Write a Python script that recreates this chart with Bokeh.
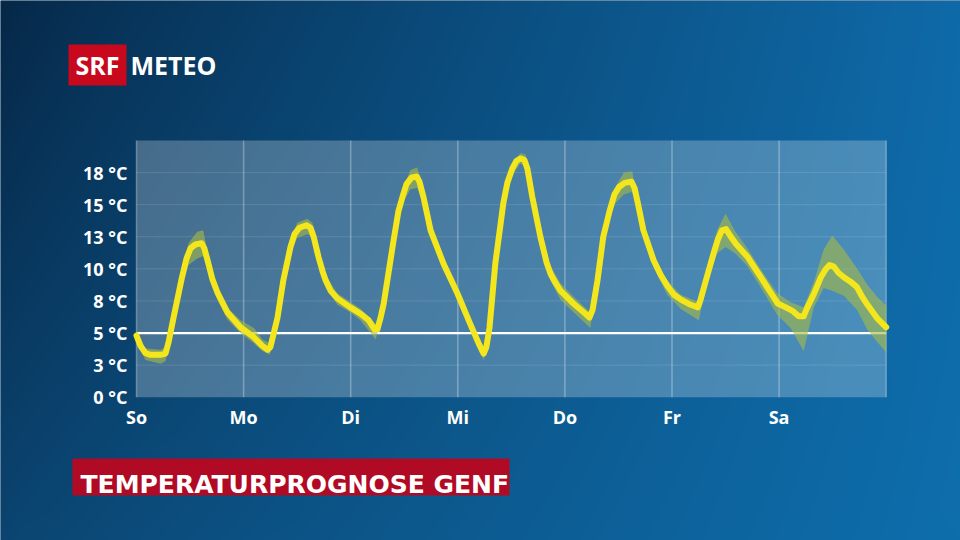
import numpy as np
from bokeh.plotting import figure
from bokeh.models import Range1d
from bokeh.core.properties import value
from bokeh.embed import file_html
from bokeh.resources import INLINE

# ---- forecast for Geneva (hours since Sunday 00:00) ----
hours = [0.0, 0.9, 2.0, 3.1, 5.4, 6.5, 7.2, 8.3, 10.2, 11.2,
         12.1, 13.2, 14.6, 15.2, 15.9, 17.0, 18.2, 20.4, 23.3, 26.2,
         28.2, 29.4, 30.0, 30.7, 31.6, 32.9, 34.5, 35.4, 36.5, 38.1,
         39.0, 39.7, 40.8, 41.7, 42.4, 43.5, 45.0, 47.9, 50.2, 52.0,
         53.3, 54.0, 54.7, 55.4, 57.6, 58.7, 59.6, 60.5, 61.6, 62.8,
         63.4, 64.3, 65.9, 68.8, 71.9, 74.8, 76.8, 77.8, 78.4, 79.1,
         80.4, 82.2, 83.1, 84.2, 85.1, 86.0, 86.9, 87.6, 88.7, 90.5,
         91.9, 92.8, 93.9, 95.0, 97.9, 100.6, 101.5, 102.2, 103.3, 104.6,
         106.0, 107.1, 108.2, 109.4, 110.9, 111.6, 112.3, 113.6, 115.9, 117.5,
         119.1, 120.4, 122.0, 124.2, 125.8, 126.4, 128.0, 129.4, 130.3, 131.2,
         132.1, 133.0, 134.3, 137.0, 139.9, 142.2, 143.7, 145.5, 147.1, 148.4,
         149.5, 150.2, 151.8, 153.3, 154.4, 155.3, 156.2, 157.3, 158.5, 160.0,
         161.4, 162.5, 163.8, 166.1, 168.0]
temp = [4.8, 4.0, 3.45, 3.3, 3.3, 3.4, 4.3, 6.2, 9.35, 10.8,
        11.6, 11.9, 12.0, 11.6, 10.7, 9.2, 8.1, 6.6, 5.45, 4.7,
        4.0, 3.7, 3.9, 4.9, 6.2, 9.1, 11.7, 12.7, 13.2, 13.4,
        13.2, 12.5, 10.9, 9.8, 9.1, 8.3, 7.7, 7.0, 6.5, 6.0,
        5.3, 5.3, 6.2, 7.3, 12.2, 14.5, 15.6, 16.6, 17.1, 17.2,
        16.8, 15.6, 13.0, 10.4, 8.1, 5.7, 4.1, 3.4, 3.9, 5.4,
        10.4, 15.1, 16.7, 17.8, 18.4, 18.6, 18.5, 17.8, 15.6, 12.5,
        10.5, 9.6, 8.9, 8.3, 7.3, 6.5, 6.2, 6.8, 9.1, 12.5,
        14.5, 15.8, 16.4, 16.7, 16.8, 16.3, 15.2, 13.0, 10.65, 9.5,
        8.6, 8.0, 7.6, 7.2, 7.0, 7.6, 9.6, 11.3, 12.3, 13.0,
        13.1, 12.6, 11.95, 10.9, 9.35, 8.1, 7.3, 7.0, 6.7, 6.3,
        6.3, 6.9, 8.05, 9.3, 9.95, 10.3, 10.2, 9.7, 9.35, 9.0,
        8.6, 7.9, 7.2, 6.1, 5.45]

# ensemble spread (min / max) on its own time steps
band_hours = [0, 2.0, 5.4, 6.5, 8.3, 10.2, 11.65, 13.6, 14.95, 16.1,
              18.1, 20.3, 23.3, 26.3, 28.2, 29.9, 31.5, 33.0, 34.5, 36.0,
              38.25, 39.4, 40.85, 42.35, 45.0, 48.0, 50.2, 53.6, 55.4, 57.7,
              59.5, 61.4, 62.9, 64.4, 65.9, 68.9, 71.9, 74.8, 77.8, 78.9,
              80.4, 82.3, 84.2, 86.0, 87.2, 88.7, 90.5, 92.8, 95.0, 98.0,
              101.7, 103.2, 104.7, 107.0, 109.2, 111.1, 111.8, 113.7, 115.9, 118.9,
              121.9, 126.0, 127.9, 130.1, 132.0, 134.2, 136.9, 139.8, 143.6, 146.6,
              149.5, 151.8, 154.0, 155.9, 158.5, 161.5, 163.7, 166.0, 168.0]
temp_upper = [5.2, 3.8, 3.7, 3.9, 6.6, 9.8, 12.0, 12.9, 13.0, 11.0,
              8.5, 7.0, 6.0, 5.4, 4.5, 4.2, 6.6, 9.5, 12.2, 13.6,
              13.9, 13.6, 11.3, 9.5, 8.1, 7.4, 6.9, 5.7, 7.7, 12.6,
              16.1, 17.7, 17.9, 16.1, 13.4, 10.8, 8.5, 6.1, 3.8, 5.6,
              10.8, 15.5, 18.2, 19.0, 18.9, 16.0, 12.9, 10.2, 8.9, 7.8,
              6.6, 9.5, 12.9, 16.2, 17.5, 17.6, 16.1, 13.5, 11.1, 9.1,
              8.0, 7.4, 10.2, 13.0, 14.3, 12.9, 11.6, 10.0, 8.1, 7.4,
              7.0, 9.0, 11.5, 12.6, 11.5, 10.0, 8.8, 7.8, 7.15]
temp_lower = [4.4, 2.9, 2.6, 2.8, 5.8, 8.9, 10.3, 10.8, 11.0, 9.8,
              7.6, 6.1, 5.0, 4.2, 3.6, 3.3, 5.8, 8.7, 11.2, 12.4,
              12.7, 12.5, 10.4, 8.6, 7.2, 6.6, 6.0, 4.5, 6.9, 11.8,
              15.0, 16.2, 16.3, 15.0, 12.6, 10.0, 7.7, 5.3, 2.9, 4.8,
              10.0, 14.7, 17.3, 18.2, 18.0, 15.2, 12.1, 9.1, 7.6, 6.6,
              5.4, 8.7, 12.0, 15.0, 15.8, 16.0, 15.0, 12.4, 10.1, 8.0,
              6.9, 6.0, 9.0, 11.2, 11.7, 11.2, 10.2, 8.6, 6.4, 5.4,
              3.6, 7.0, 8.5, 8.3, 7.9, 6.8, 5.3, 4.3, 3.5]

days = ["So", "Mo", "Di", "Mi", "Do", "Fr", "Sa"]
day_hours = [0, 24, 48, 72, 96, 120, 144]
grid_hours = [0, 24, 48, 72, 96, 120, 144, 168]
y_ticks = [0, 2.5, 5, 7.5, 10, 12.5, 15, 17.5]
y_labels = ["0 °C", "3 °C", "5 °C", "8 °C", "10 °C", "13 °C", "15 °C", "18 °C"]
reference_temp = 5
x_max, y_max = 168, 20

# ---- layout (canvas pixels) ----
W, H = 960, 540
PL, PR, PT, PB = 136, 885.7, 140, 396.7
sx = (PR - PL) / x_max
sy = (PB - PT) / y_max
x_lo, x_hi = -PL / sx, x_max + (W - PR) / sx
y_hi, y_lo = y_max + PT / sy, -(H - PB) / sy


def X(px):
    return x_lo + px / sx


def Y(py):
    return y_hi - py / sy


p = figure(width=W, height=H, output_backend="svg", toolbar_location=None,
           x_range=Range1d(x_lo, x_hi), y_range=Range1d(y_lo, y_hi),
           min_border=0, x_axis_type=None, y_axis_type=None)
p.grid.visible = False
p.outline_line_color = None
p.background_fill_color = "#0a3a62"
p.border_fill_color = "#0a3a62"

# ---- background gradient ----
gw, gh = 480, 270
u = np.linspace(0, 1, gw)[None, :]
v = np.linspace(1, 0, gh)[:, None]  # row 0 is the bottom of the image
tl = np.array([6, 40, 72]); tr = np.array([15, 106, 168])
bl = np.array([11, 68, 112]); br = np.array([14, 110, 172])
uu = u ** 0.85
rgb = []
for c in range(3):
    top = tl[c] * (1 - uu) + tr[c] * uu
    bot = bl[c] * (1 - uu) + br[c] * uu
    rgb.append((top * (1 - v) + bot * v).astype(np.uint32))
img = (255 << 24) | (rgb[2] << 16) | (rgb[1] << 8) | rgb[0]
p.image_rgba(image=[img.astype(np.uint32)], x=x_lo, y=y_lo,
             dw=x_hi - x_lo, dh=y_hi - y_lo)

# ---- plot panel ----
p.quad(left=0, right=x_max, bottom=0, top=y_max,
       fill_color="white", fill_alpha=0.25, line_color=None)
for t in y_ticks[1:]:
    p.line([0, x_max], [t, t], line_color="white", line_alpha=0.12, line_width=1)
for h in grid_hours:
    p.line([h, h], [0, y_max], line_color="white", line_alpha=0.3, line_width=1.5)

p.line([0, x_max], [reference_temp, reference_temp], line_color="white", line_width=2.2)

# ---- uncertainty band and forecast ----
p.varea(x=band_hours, y1=temp_lower, y2=temp_upper, fill_color="#a6bb45", fill_alpha=0.6)
p.line(hours, temp, line_color="#f4e61c", line_width=6, line_join="round", line_cap="round")

# ---- axis labels ----
p.text(x=[X(127)] * len(y_ticks), y=y_ticks, text=y_labels,
       text_align="right", text_baseline="alphabetic",
       text_font=value("Open Sans"), text_font_style="bold",
       text_font_size="18px", text_color="white")
p.text(x=day_hours, y=[Y(416)] * len(days), text=days,
       text_align="center", text_baseline="alphabetic",
       text_font=value("Open Sans"), text_font_style="bold",
       text_font_size="18px", text_color="white")

# ---- branding ----
p.quad(left=X(68), right=X(126), top=Y(44), bottom=Y(85),
       fill_color="#c8091d", line_color=None)
p.text(x=[X(97)], y=[Y(64.5)], text=["SRF"], text_align="center",
       text_baseline="middle", text_font=value("Open Sans"),
       text_font_style="bold", text_font_size="25px", text_color="white")
p.text(x=[X(130)], y=[Y(64.5)], text=["METEO"], text_align="left",
       text_baseline="middle", text_font=value("Open Sans"),
       text_font_style="bold", text_font_size="25px", text_color="white")

# ---- title bar ----
p.quad(left=X(72), right=X(509), top=Y(458), bottom=Y(495),
       fill_color="#b10a24", line_color=None)
p.text(x=[X(80)], y=[Y(484)], text=["TEMPERATURPROGNOSE GENF"],
       text_align="left", text_baseline="alphabetic",
       text_font=value("DejaVu Sans"), text_font_style="bold",
       text_font_size="25px", text_color="white")

open("out.html", "w").write(file_html(p, INLINE))
